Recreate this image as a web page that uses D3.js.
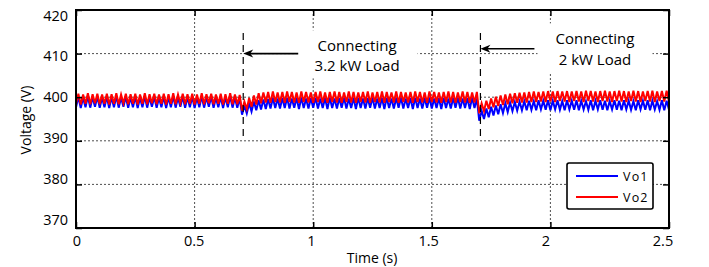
<!DOCTYPE html>
<html>
<head>
<meta charset="utf-8">
<script src="https://cdn.jsdelivr.net/npm/d3@7"></script>
<style>
  body { margin: 0; background: #fff; }
  text { font-family: "Open Sans", sans-serif; fill: #000; }
</style>
</head>
<body>
<svg id="chart" width="709" height="267"></svg>
<script>
// sample grid: one value every 10 ms (alternating ripple trough / peak)
const sampleStep = 0.01;

// Vo1 (blue), V
const vo1 = [
  397.7, 400.1, 397.5, 399.9, 397.7, 400.2, 397.6, 400.0, 397.8, 400.1,
  397.6, 399.9, 397.7, 400.1, 397.5, 400.0, 397.7, 400.2, 397.6, 399.9,
  397.8, 400.1, 397.6, 400.0, 397.7, 400.1, 397.5, 399.9, 397.7, 400.2,
  397.6, 400.0, 397.8, 400.1, 397.6, 399.9, 397.7, 400.1, 397.5, 400.0,
  397.7, 400.2, 397.6, 399.9, 397.8, 400.1, 397.6, 400.0, 397.7, 400.1,
  397.5, 399.9, 397.7, 400.2, 397.6, 400.0, 397.8, 400.1, 397.6, 399.9,
  397.7, 400.1, 397.5, 400.0, 397.7, 400.2, 397.6, 399.9, 397.6, 399.8,
  396.0, 398.1, 396.3, 398.6, 396.7, 399.0, 397.0, 399.3, 397.2, 399.5,
  397.3, 399.6, 397.4, 399.8, 397.5, 399.7, 397.4, 399.8, 397.5, 399.9,
  397.4, 399.7, 397.6, 399.8, 397.3, 399.9, 397.5, 399.7, 397.4, 399.8,
  397.6, 399.9, 397.4, 399.7, 397.5, 399.8, 397.3, 399.9, 397.5, 399.7,
  397.4, 399.8, 397.6, 399.9, 397.4, 399.7, 397.5, 399.8, 397.3, 399.9,
  397.5, 399.7, 397.4, 399.8, 397.6, 399.9, 397.4, 399.7, 397.5, 399.8,
  397.3, 399.9, 397.5, 399.7, 397.4, 399.8, 397.6, 399.9, 397.4, 399.7,
  397.5, 399.8, 397.3, 399.9, 397.5, 399.7, 397.4, 399.8, 397.6, 399.9,
  397.4, 399.7, 397.5, 399.8, 397.3, 399.9, 397.5, 399.7, 397.4, 399.8,
  397.6, 399.9, 397.4, 399.7, 397.5, 399.8, 397.3, 399.9, 397.5, 399.7,
  394.6, 396.9, 395.0, 397.4, 395.4, 397.8, 395.8, 398.1, 396.1, 398.4,
  396.4, 398.6, 396.6, 398.8, 396.8, 398.9, 396.9, 399.0, 397.0, 399.1,
  397.0, 399.2, 397.1, 399.1, 397.0, 399.3, 397.2, 399.2, 397.1, 399.3,
  397.0, 399.2, 397.2, 399.3, 397.1, 399.1, 397.0, 399.3, 397.2, 399.2,
  397.1, 399.3, 397.0, 399.2, 397.2, 399.1, 397.1, 399.3, 397.0, 399.2,
  397.2, 399.3, 397.1, 399.2, 397.0, 399.1, 397.2, 399.3, 397.1, 399.2,
  397.0, 399.3, 397.2, 399.2, 397.1, 399.1, 397.0, 399.3, 397.2, 399.2,
  397.1, 399.3, 397.0, 399.2, 397.2, 399.1, 397.1, 399.3, 397.0, 399.2,
  397.1
];

// Vo2 (red), V
const vo2 = [
  398.5, 400.8, 398.3, 400.6, 398.5, 400.9, 398.4, 400.7, 398.6, 400.8,
  398.4, 400.6, 398.5, 400.8, 398.3, 400.7, 398.5, 400.9, 398.4, 400.6,
  398.6, 400.8, 398.4, 400.7, 398.5, 400.8, 398.3, 400.6, 398.5, 400.9,
  398.4, 400.7, 398.6, 400.8, 398.4, 400.6, 398.5, 400.8, 398.3, 400.7,
  398.5, 400.9, 398.4, 400.6, 398.6, 400.8, 398.4, 400.7, 398.5, 400.8,
  398.3, 400.6, 398.5, 400.9, 398.4, 400.7, 398.6, 400.8, 398.4, 400.6,
  398.5, 400.8, 398.3, 400.7, 398.5, 400.9, 398.4, 400.6, 398.4, 400.5,
  396.9, 399.0, 397.3, 399.8, 397.8, 400.4, 398.3, 400.9, 398.6, 401.1,
  398.8, 401.2, 398.7, 401.3, 398.9, 401.1, 398.8, 401.2, 398.7, 401.3,
  398.9, 401.2, 398.8, 401.1, 398.7, 401.3, 398.9, 401.2, 398.8, 401.1,
  398.7, 401.2, 398.9, 401.3, 398.8, 401.1, 398.7, 401.2, 398.9, 401.3,
  398.8, 401.2, 398.7, 401.1, 398.9, 401.3, 398.8, 401.2, 398.7, 401.1,
  398.9, 401.2, 398.8, 401.3, 398.7, 401.1, 398.9, 401.2, 398.8, 401.3,
  398.7, 401.2, 398.9, 401.1, 398.8, 401.3, 398.7, 401.2, 398.9, 401.1,
  398.8, 401.2, 398.7, 401.3, 398.9, 401.2, 398.8, 401.1, 398.7, 401.3,
  398.9, 401.2, 398.8, 401.1, 398.7, 401.2, 398.9, 401.3, 398.8, 401.2,
  398.7, 401.1, 398.9, 401.3, 398.8, 401.2, 398.7, 401.1, 398.8, 401.2,
  396.3, 398.6, 396.8, 399.2, 397.3, 399.7, 397.7, 400.1, 398.0, 400.4,
  398.2, 400.6, 398.4, 400.8, 398.6, 400.9, 398.7, 401.0, 398.8, 401.1,
  398.8, 401.2, 398.9, 401.3, 398.9, 401.2, 399.0, 401.3, 398.9, 401.4,
  399.0, 401.3, 398.9, 401.4, 399.1, 401.3, 399.0, 401.4, 398.9, 401.3,
  399.1, 401.4, 399.0, 401.3, 398.9, 401.5, 399.1, 401.4, 399.0, 401.3,
  398.9, 401.4, 399.1, 401.5, 399.0, 401.3, 398.9, 401.4, 399.1, 401.5,
  399.0, 401.4, 398.9, 401.3, 399.1, 401.5, 399.0, 401.4, 398.9, 401.3,
  399.1, 401.4, 399.0, 401.5, 398.9, 401.3, 399.1, 401.4, 399.0, 401.5,
  399.0
];

const xTicks = [0, 0.5, 1, 1.5, 2, 2.5];
const xTickLabels = ["0", "0.5", "1", "1.5", "2", "2.5"];
const yTicks = [370, 380, 390, 400, 410, 420];
const yTickLabels = ["370", "380", "390", "400", "410", "420"];

const seriesNames = ["Vo1", "Vo2"];
const seriesColors = ["#0000ff", "#ff0000"];

// load steps (s) and their notes
const eventTimes = [0.705, 1.705];
const eventNotes = [["Connecting", "3.2 kW Load"], ["Connecting", "2 kW Load"]];

const svg = d3.select("#chart");
svg.append("rect").attr("width", 709).attr("height", 267).attr("fill", "#fff");

const x = d3.scaleLinear().domain([0, 2.5]).range([76, 669]);
const y = d3.scaleLinear().domain([370, 420]).range([228, 10]);
// the tick labels in the picture sit slightly squeezed against the ticks
const xLab = d3.scaleLinear().domain([0, 2.5]).range([77, 663]);
const yLab = d3.scaleLinear().domain([370, 420]).range([219, 15]);

svg.append("clipPath").attr("id", "plotClip")
  .append("rect")
  .attr("x", x(0)).attr("y", y(420))
  .attr("width", x(2.5) - x(0)).attr("height", y(370) - y(420));

// grid
const grid = svg.append("g")
  .attr("stroke", "#222")
  .attr("stroke-width", 0.8)
  .attr("stroke-dasharray", "2,2");
grid.selectAll(".gx")
  .data(xTicks.slice(1, -1))
  .join("line")
  .attr("x1", d => x(d)).attr("x2", d => x(d))
  .attr("y1", y(420)).attr("y2", y(370));
grid.selectAll(".gy")
  .data(yTicks.slice(1, -1))
  .join("line")
  .attr("x1", x(0)).attr("x2", x(2.5))
  .attr("y1", d => y(d)).attr("y2", d => y(d));

// waveforms
const line = d3.line()
  .x((d, i) => x(i * sampleStep))
  .y(d => y(d));

const plot = svg.append("g").attr("clip-path", "url(#plotClip)");
[vo1, vo2].forEach((s, k) => {
  plot.append("path")
    .datum(s)
    .attr("d", line)
    .attr("fill", "none")
    .attr("stroke", seriesColors[k])
    .attr("stroke-width", 2)
    .attr("stroke-linejoin", "miter");
});

// load-step markers
svg.selectAll(".evt")
  .data(eventTimes)
  .join("line")
  .attr("x1", d => x(d)).attr("x2", d => x(d))
  .attr("y1", y(414.7)).attr("y2", y(391))
  .attr("stroke", "#000")
  .attr("stroke-width", 1.2)
  .attr("stroke-dasharray", "7,5");

// notes: white boxes that hide the grid, then text
const noteX = [1.185, 2.188];
const noteY = [[411.9, 407.3], [413.5, 408.7]];
const arrowV = [410, 411.1];
const arrowLen = [55, 54];

eventNotes.forEach((lines, k) => {
  const g = svg.append("g");
  const box = g.append("rect").attr("fill", "#fff");
  g.selectAll("text")
    .data(lines)
    .join("text")
    .attr("x", x(noteX[k]))
    .attr("y", (d, i) => y(noteY[k][i]))
    .attr("text-anchor", "middle")
    .attr("dominant-baseline", "central")
    .attr("font-size", "15px")
    .text(d => d);
  const bb = g.node().getBBox();
  box.attr("x", bb.x - 18).attr("y", bb.y - 5)
    .attr("width", bb.width + 36).attr("height", bb.height + 8);

  const ex = x(eventTimes[k]);
  const ay = y(arrowV[k]);
  svg.append("line")
    .attr("x1", ex + arrowLen[k]).attr("x2", ex + 6)
    .attr("y1", ay).attr("y2", ay)
    .attr("stroke", "#000").attr("stroke-width", 1.6);
  svg.append("path")
    .attr("d", `M${ex},${ay} L${ex + 10},${ay - 4} L${ex + 7},${ay} L${ex + 10},${ay + 4} Z`)
    .attr("fill", "#000");
});

// frame + inward ticks
const axes = svg.append("g");
axes.append("g").attr("transform", `translate(0,${y(370)})`)
  .call(d3.axisBottom(x).tickValues(xTicks).tickSize(-6).tickFormat(""));
axes.append("g").attr("transform", `translate(0,${y(420)})`)
  .call(d3.axisTop(x).tickValues(xTicks).tickSize(-6).tickFormat(""));
axes.append("g").attr("transform", `translate(${x(0)},0)`)
  .call(d3.axisLeft(y).tickValues(yTicks).tickSize(-6).tickFormat(""));
axes.append("g").attr("transform", `translate(${x(2.5)},0)`)
  .call(d3.axisRight(y).tickValues(yTicks).tickSize(-6).tickFormat(""));
axes.selectAll(".domain").remove();
axes.selectAll(".tick line").attr("stroke", "#000").attr("stroke-width", 1.5);
axes.append("rect")
  .attr("x", x(0)).attr("y", y(420))
  .attr("width", x(2.5) - x(0)).attr("height", y(370) - y(420))
  .attr("fill", "none").attr("stroke", "#000").attr("stroke-width", 2);

// tick labels
svg.selectAll(".xl")
  .data(xTicks)
  .join("text")
  .attr("x", d => xLab(d))
  .attr("y", 240)
  .attr("text-anchor", "middle")
  .attr("dominant-baseline", "central")
  .attr("font-size", "14.5px")
  .text((d, i) => xTickLabels[i]);
svg.selectAll(".yl")
  .data(yTicks)
  .join("text")
  .attr("x", 68)
  .attr("y", d => yLab(d))
  .attr("text-anchor", "end")
  .attr("dominant-baseline", "central")
  .attr("font-size", "14.5px")
  .text((d, i) => yTickLabels[i]);

// axis titles
svg.append("text")
  .attr("x", 372).attr("y", 257)
  .attr("text-anchor", "middle").attr("dominant-baseline", "central")
  .attr("font-size", "14px")
  .text("Time (s)");
svg.append("text")
  .attr("transform", "translate(25,120) rotate(-90)")
  .attr("text-anchor", "middle").attr("dominant-baseline", "central")
  .attr("font-size", "14px")
  .text("Voltage (V)");

// legend
const lg = svg.append("g").attr("transform", "translate(567,163)");
lg.append("rect")
  .attr("width", 86).attr("height", 46).attr("rx", 2)
  .attr("fill", "#fff").attr("stroke", "#000").attr("stroke-width", 1.6);
seriesNames.forEach((name, k) => {
  lg.append("line")
    .attr("x1", 9).attr("x2", 51)
    .attr("y1", 13 + k * 21).attr("y2", 13 + k * 21)
    .attr("stroke", seriesColors[k]).attr("stroke-width", 2);
  lg.append("text")
    .attr("x", 56).attr("y", 13 + k * 21)
    .attr("dominant-baseline", "central")
    .attr("font-family", "Liberation Sans, sans-serif")
    .attr("font-size", "12.5px")
    .attr("letter-spacing", "1.2px")
    .text(name);
});
</script>
</body>
</html>
